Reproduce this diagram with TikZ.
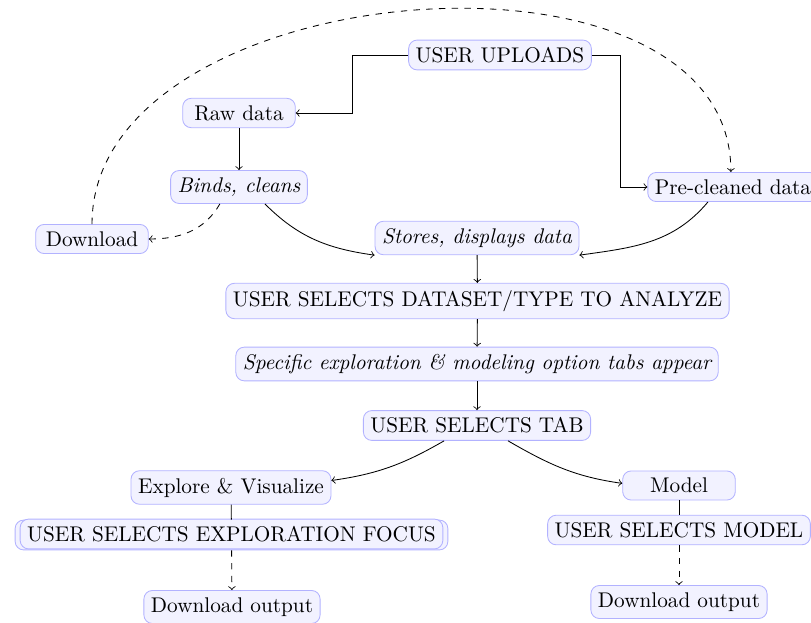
\documentclass[tikz,border=0pt]{standalone}
\usetikzlibrary{arrows}
\begin{document}
\begin{tikzpicture}[x=0.4706pt,y=0.4706pt,
  box/.style={draw=blue!30,fill=blue!5,rounded corners=4pt,inner sep=3.33pt},
  minbox/.style={box,minimum width=53pt},
  conn/.style={->,black},
  dconn/.style={->,black,dashed}]
\useasboundingbox (0,0) rectangle (811,622);
% nodes
\node[box] (uu) at (500,567) {USER UPLOADS};
\node[minbox] (raw) at (239,509) {Raw data};
\node[box] (binds) at (239,435) {\itshape Binds, cleans};
\node[minbox] (dl) at (92,383) {Download};
\node[box] (pre) at (733,435) {Pre-cleaned data};
\node[box] (stores) at (477,384) {\itshape Stores, displays data};
\node[box] (sel) at (477.5,321) {USER SELECTS DATASET/TYPE TO ANALYZE};
\node[box] (spec) at (477,258) {\itshape Specific exploration \& modeling option tabs appear};
\node[box] (tab) at (477,196.5) {USER SELECTS TAB};
\node[box] (explore) at (231,134.5) {Explore \& Visualize};
\node[box,inner xsep=5.7pt] (focusback) at (231.5,87) {\phantom{USER SELECTS EXPLORATION FOCUS}};
\node[box] (focus) at (231.5,88) {USER SELECTS EXPLORATION FOCUS};
\node[box] (dlo1) at (232,15) {Download output};
\node[minbox] (model) at (679,136.5) {Model};
\node[box] (selmodel) at (679,92) {USER SELECTS MODEL};
\node[box] (dlo2) at (679,20) {Download output};
% connectors
\draw[conn] (uu.west) -- ++(-56,0) |- (raw.east);
\draw[conn] (uu.east) -- ++(29,0) |- (pre.west);
\draw[conn] (raw) -- (binds);
\draw[conn] ([xshift=12.2pt]binds.south) to[out=-45,in=172] (stores.south west);
\draw[conn] ([xshift=-11.8pt]pre.south) to[out=-130,in=8] (stores.south east);
\draw[dconn] ([xshift=-9pt]binds.south) to[out=-120,in=0] (dl.east);
\draw[dconn] (dl.north) to[out=90,in=90] ([xshift=-1pt]pre.north);
\draw[conn] (stores) -- (sel);
\draw[conn] (sel) -- (spec);
\draw[conn] (spec) -- (tab);
\draw[conn] ([xshift=-15.5pt]tab.south) to[out=-150,in=8] ([yshift=3.3pt]explore.east);
\draw[conn] ([xshift=14.6pt]tab.south) to[out=-30,in=172] ([yshift=1pt]model.west);
\draw (explore) -- (focusback);
\draw[dconn] (focusback) -- (dlo1);
\draw (model) -- (selmodel);
\draw[dconn] (selmodel) -- (dlo2);
\end{tikzpicture}
\end{document}
